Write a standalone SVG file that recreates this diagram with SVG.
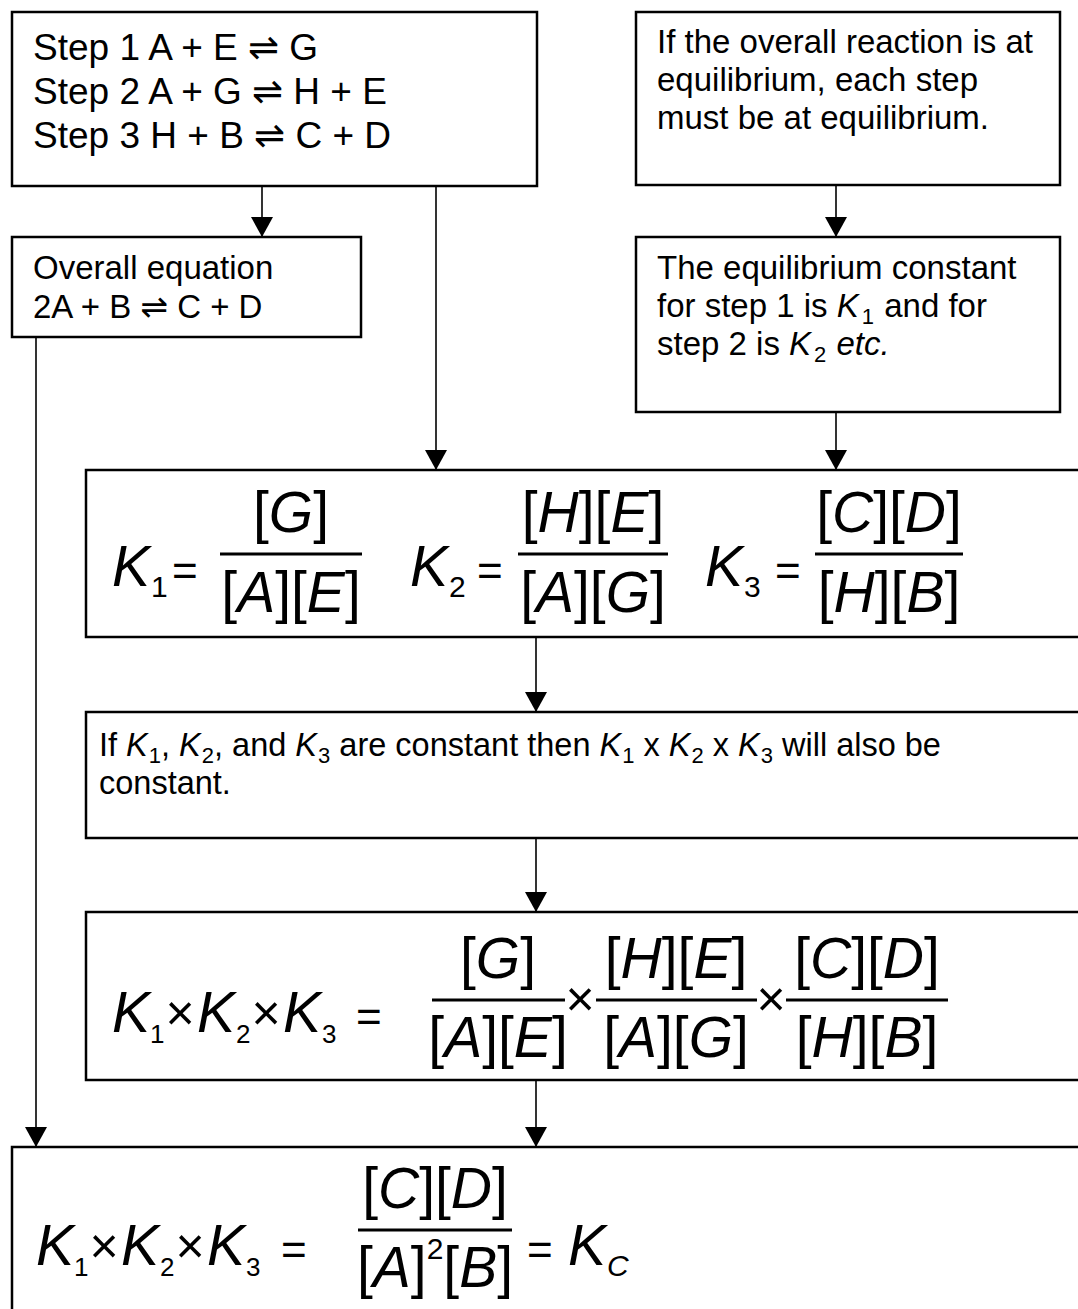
<svg xmlns="http://www.w3.org/2000/svg" width="1078" height="1309" viewBox="0 0 1078 1309">
<defs>
<marker id="arr" viewBox="0 0 20 22" markerWidth="20" markerHeight="22" refX="20" refY="11" orient="auto" markerUnits="userSpaceOnUse">
<path d="M0,0 L20,11 L0,22 z" fill="#000"/>
</marker>
<style>
.box{fill:#fff;stroke:#000;stroke-width:2.5}
.t{font-family:"Liberation Sans",Arial,"DejaVu Sans",sans-serif;fill:#000}
.s37{font-size:37px}
.s33{font-size:33px}
.s32{font-size:32.5px}
.eq{font-family:"Liberation Sans",Arial,sans-serif;font-size:57px;fill:#000}
.i{font-style:italic}
.sub{font-size:30px;font-style:normal}
.sub2{font-size:26px;font-style:normal}
.eqs{font-size:44px;font-style:normal}
.mul{font-size:50px;font-style:normal;text-anchor:middle}
.bar{stroke:#000;stroke-width:3}
.conn{stroke:#000;stroke-width:1.6;fill:none;marker-end:url(#arr)}
</style>
</defs>
<rect width="1078" height="1309" fill="#fff"/>

<g id="connectors">
<line class="conn" x1="262" y1="186" x2="262" y2="237"/>
<line class="conn" x1="436" y1="186" x2="436" y2="470"/>
<line class="conn" x1="836" y1="185" x2="836" y2="237"/>
<line class="conn" x1="836" y1="412" x2="836" y2="470"/>
<line class="conn" x1="536" y1="637" x2="536" y2="712"/>
<line class="conn" x1="536" y1="838" x2="536" y2="912"/>
<line class="conn" x1="536" y1="1080" x2="536" y2="1147"/>
<line class="conn" x1="36" y1="337" x2="36" y2="1147"/>
</g>

<g id="steps">
<rect class="box" x="12" y="12" width="525" height="174"/>
<text class="t s37" x="33" y="60">Step 1 A + E ⇌ G</text>
<text class="t s37" x="33" y="104">Step 2 A + G ⇌ H + E</text>
<text class="t s37" x="33" y="148">Step 3 H + B ⇌ C + D</text>
</g>

<g id="overall">
<rect class="box" x="12" y="237" width="349" height="100"/>
<text class="t s33" x="33" y="279">Overall equation</text>
<text class="t s33" x="33" y="318">2A + B ⇌ C + D</text>
</g>

<g id="equilibrium">
<rect class="box" x="636" y="12" width="424" height="173"/>
<text class="t s33" x="657" y="53">If the overall reaction is at</text>
<text class="t s33" x="657" y="91">equilibrium, each step</text>
<text class="t s33" x="657" y="129">must be at equilibrium.</text>
</g>

<g id="constants">
<rect class="box" x="636" y="237" width="424" height="175"/>
<text class="t s33" x="657" y="279">The equilibrium constant</text>
<text class="t s33" x="657" y="317">for step 1 is <tspan class="i">K</tspan><tspan font-size="22" dx="3" dy="7">1</tspan><tspan dx="1" dy="-7"> and for</tspan></text>
<text class="t s33" x="657" y="355">step 2 is <tspan class="i">K</tspan><tspan font-size="22" dx="3" dy="7">2</tspan><tspan class="i" dx="1" dy="-7"> etc.</tspan></text>
</g>

<g id="k-expressions">
<rect class="box" x="86" y="470" width="1010" height="167"/>
<text class="eq i" x="112" y="586">K<tspan class="sub" x="151" dy="11">1</tspan></text>
<text class="eq eqs" x="172" y="586">=</text>
<line class="bar" x1="220" y1="554" x2="362" y2="554"/>
<text class="eq" x="291" y="532" text-anchor="middle">[<tspan class="i">G</tspan>]</text>
<text class="eq" x="291" y="612" text-anchor="middle">[<tspan class="i">A</tspan>][<tspan class="i">E</tspan>]</text>
<text class="eq i" x="410" y="586">K<tspan class="sub" x="449" dy="11">2</tspan></text>
<text class="eq eqs" x="477" y="586">=</text>
<line class="bar" x1="518" y1="554" x2="668" y2="554"/>
<text class="eq" x="593" y="532" text-anchor="middle">[<tspan class="i">H</tspan>][<tspan class="i">E</tspan>]</text>
<text class="eq" x="593" y="612" text-anchor="middle">[<tspan class="i">A</tspan>][<tspan class="i">G</tspan>]</text>
<text class="eq i" x="705" y="586">K<tspan class="sub" x="744" dy="11">3</tspan></text>
<text class="eq eqs" x="775" y="586">=</text>
<line class="bar" x1="815" y1="554" x2="963" y2="554"/>
<text class="eq" x="889" y="532" text-anchor="middle">[<tspan class="i">C</tspan>][<tspan class="i">D</tspan>]</text>
<text class="eq" x="889" y="612" text-anchor="middle">[<tspan class="i">H</tspan>][<tspan class="i">B</tspan>]</text>
</g>

<g id="constant-note">
<rect class="box" x="86" y="712" width="1010" height="126"/>
<text class="t s32" x="99" y="756">If <tspan class="i">K</tspan><tspan font-size="22" dx="1" dy="7">1</tspan><tspan dy="-7">, </tspan><tspan class="i">K</tspan><tspan font-size="22" dx="1" dy="7">2</tspan><tspan dy="-7">, and </tspan><tspan class="i">K</tspan><tspan font-size="22" dx="1" dy="7">3</tspan><tspan dy="-7"> are constant then </tspan><tspan class="i">K</tspan><tspan font-size="22" dx="1" dy="7">1</tspan><tspan dy="-7"> x </tspan><tspan class="i">K</tspan><tspan font-size="22" dx="1" dy="7">2</tspan><tspan dy="-7"> x </tspan><tspan class="i">K</tspan><tspan font-size="22" dx="1" dy="7">3</tspan><tspan dy="-7"> will also be</tspan></text>
<text class="t s32" x="99" y="794">constant.</text>
</g>

<g id="product">
<rect class="box" x="86" y="912" width="1010" height="168"/>
<text class="eq i" x="112" y="1032">K<tspan class="sub2" x="150" dy="11">1</tspan></text>
<text class="eq mul" x="180" y="1030">×</text>
<text class="eq i" x="197" y="1032">K<tspan class="sub2" x="236" dy="11">2</tspan></text>
<text class="eq mul" x="266" y="1030">×</text>
<text class="eq i" x="283" y="1032">K<tspan class="sub2" x="322" dy="11">3</tspan></text>
<text class="eq eqs" x="356" y="1032">=</text>
<line class="bar" x1="432" y1="1000" x2="565" y2="1000"/>
<text class="eq" x="498" y="978" text-anchor="middle">[<tspan class="i">G</tspan>]</text>
<text class="eq" x="498" y="1057" text-anchor="middle">[<tspan class="i">A</tspan>][<tspan class="i">E</tspan>]</text>
<text class="eq mul" x="580" y="1016">×</text>
<line class="bar" x1="596" y1="1000" x2="757" y2="1000"/>
<text class="eq" x="676" y="978" text-anchor="middle">[<tspan class="i">H</tspan>][<tspan class="i">E</tspan>]</text>
<text class="eq" x="676" y="1057" text-anchor="middle">[<tspan class="i">A</tspan>][<tspan class="i">G</tspan>]</text>
<text class="eq mul" x="771" y="1016">×</text>
<line class="bar" x1="786" y1="1000" x2="948" y2="1000"/>
<text class="eq" x="867" y="978" text-anchor="middle">[<tspan class="i">C</tspan>][<tspan class="i">D</tspan>]</text>
<text class="eq" x="867" y="1057" text-anchor="middle">[<tspan class="i">H</tspan>][<tspan class="i">B</tspan>]</text>
</g>

<g id="result">
<rect class="box" x="12" y="1147" width="1100" height="200"/>
<text class="eq i" x="36" y="1265">K<tspan class="sub2" x="74" dy="11">1</tspan></text>
<text class="eq mul" x="104" y="1263">×</text>
<text class="eq i" x="121" y="1265">K<tspan class="sub2" x="160" dy="11">2</tspan></text>
<text class="eq mul" x="190" y="1263">×</text>
<text class="eq i" x="207" y="1265">K<tspan class="sub2" x="246" dy="11">3</tspan></text>
<text class="eq eqs" x="281" y="1265">=</text>
<line class="bar" x1="358" y1="1230" x2="512" y2="1230"/>
<text class="eq" x="435" y="1208" text-anchor="middle">[<tspan class="i">C</tspan>][<tspan class="i">D</tspan>]</text>
<text class="eq" x="435" y="1287" text-anchor="middle">[<tspan class="i">A</tspan>]<tspan font-size="30" dy="-28">2</tspan><tspan dy="28">[</tspan><tspan class="i">B</tspan>]</text>
<text class="eq eqs" x="527" y="1265">=</text>
<text class="eq i" x="568" y="1265">K<tspan font-size="30" x="607" dy="11">C</tspan></text>
</g>
</svg>
